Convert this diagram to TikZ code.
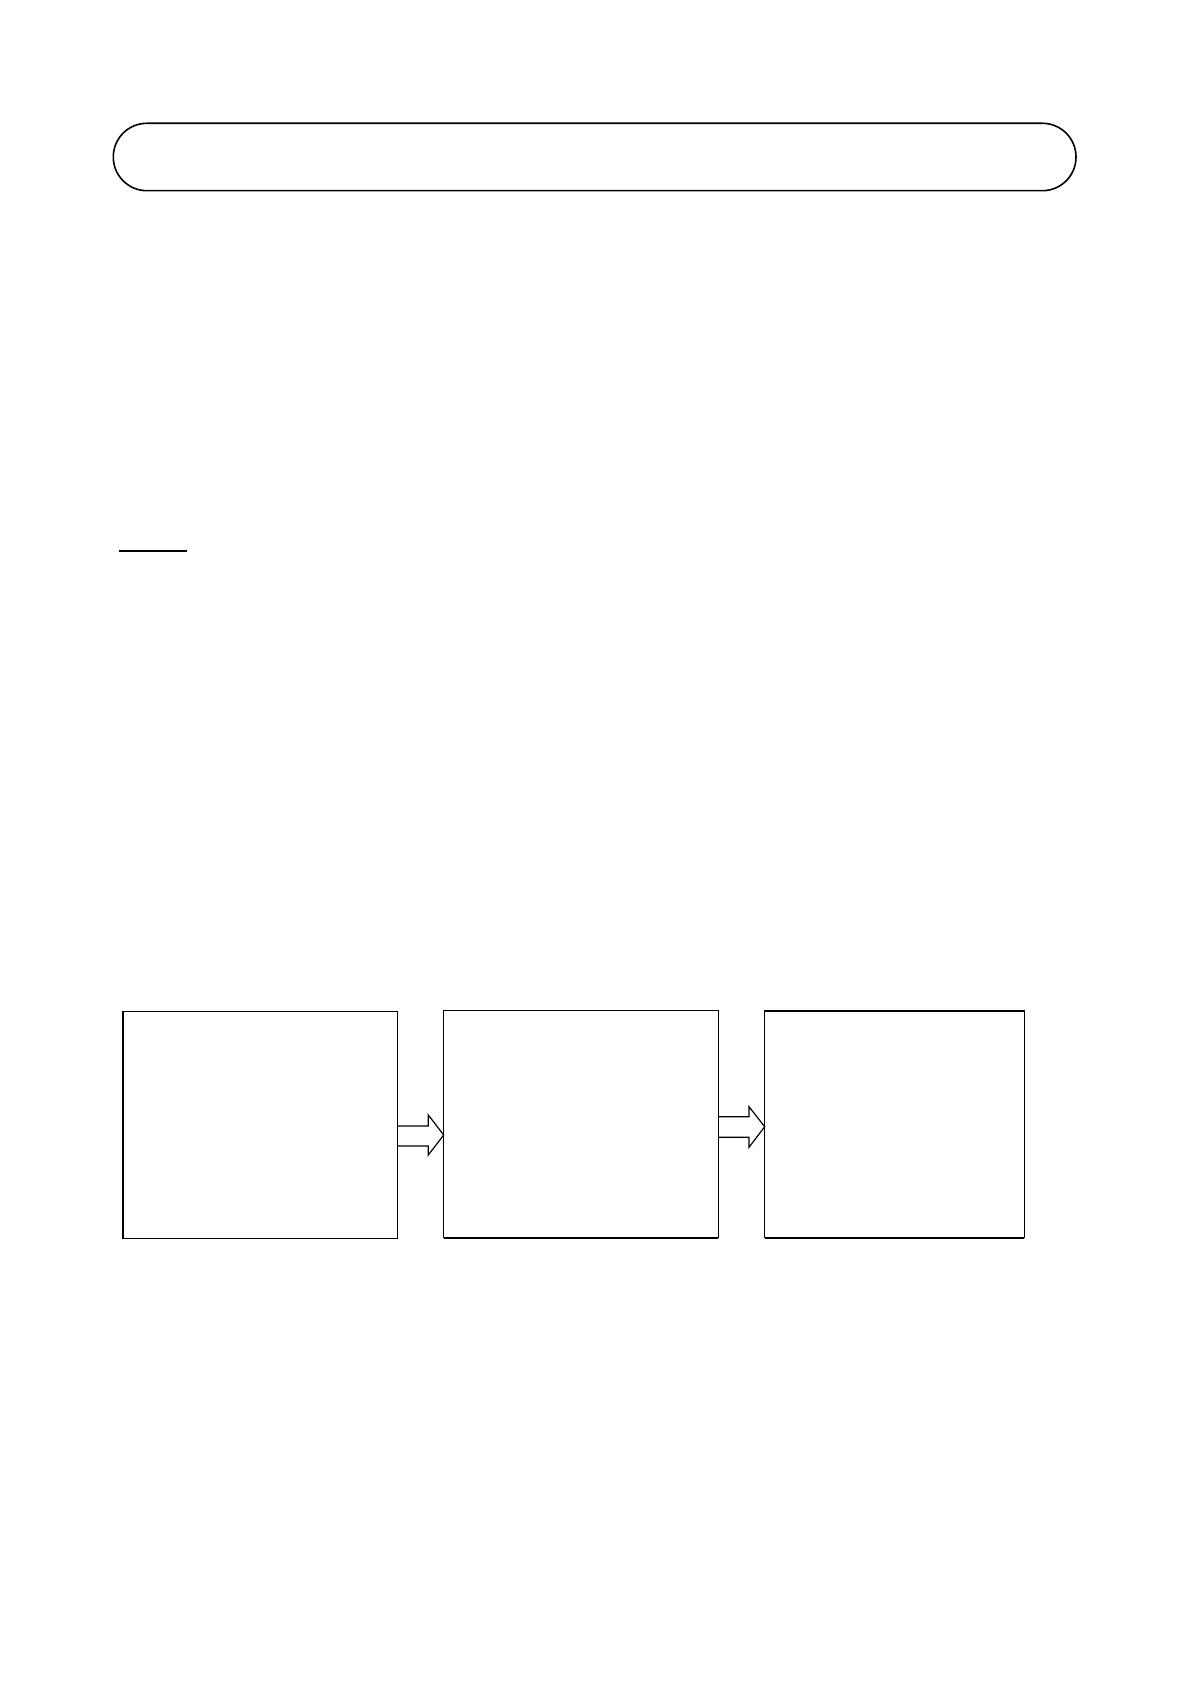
\documentclass[tikz,border=0pt]{standalone}
\begin{document}
\begin{tikzpicture}[x=0.5pt,y=-0.5pt,
  box/.style={draw, line width=0.65pt, inner sep=0pt, outer sep=0pt, anchor=north west},
  titlebox/.style={draw, line width=0.8pt, rounded corners=16.8pt, inner sep=0pt, outer sep=0pt, anchor=north west},
  blockarrow/.style={draw, line width=0.6pt, line join=miter},
  heavy/.style={line width=1.1pt}]
\useasboundingbox (0,0) rectangle (1190,1684);
% title bar
\node[titlebox, minimum width=481.35pt, minimum height=33.7pt] (title) at (113.3,123.3) {};
% underline
\coordinate (u1) at (119,550.7);
\coordinate (u2) at (187,550.7);
\draw[line width=1pt] (u1) -- (u2);
% boxes
\node[box, minimum width=137.15pt, minimum height=113.3pt] (b1) at (123,1011.7) {};
\node[box, minimum width=137.3pt, minimum height=113.5pt] (b2) at (443.7,1010.7) {};
\node[box, minimum width=129.8pt, minimum height=113.35pt] (b3) at (764.7,1011) {};
\draw[heavy] (b2.south west) -- (b2.south east);
\draw[heavy] (b3.north west) -- (b3.north east);
\draw[heavy] (b3.south west) -- (b3.south east);
% block arrows
\path[blockarrow] (b1.east |- 0,1126) -- (428.3,1126) -- (428.3,1115) -- (b2.west |- 0,1135)
  -- (428.3,1155) -- (428.3,1146) -- (b1.east |- 0,1146);
\path[blockarrow] (b2.east |- 0,1116.7) -- (749,1116.7) -- (749,1106.7) -- (b3.west |- 0,1126.7)
  -- (749,1147.3) -- (749,1137.3) -- (b2.east |- 0,1137.3);
\end{tikzpicture}
\end{document}
